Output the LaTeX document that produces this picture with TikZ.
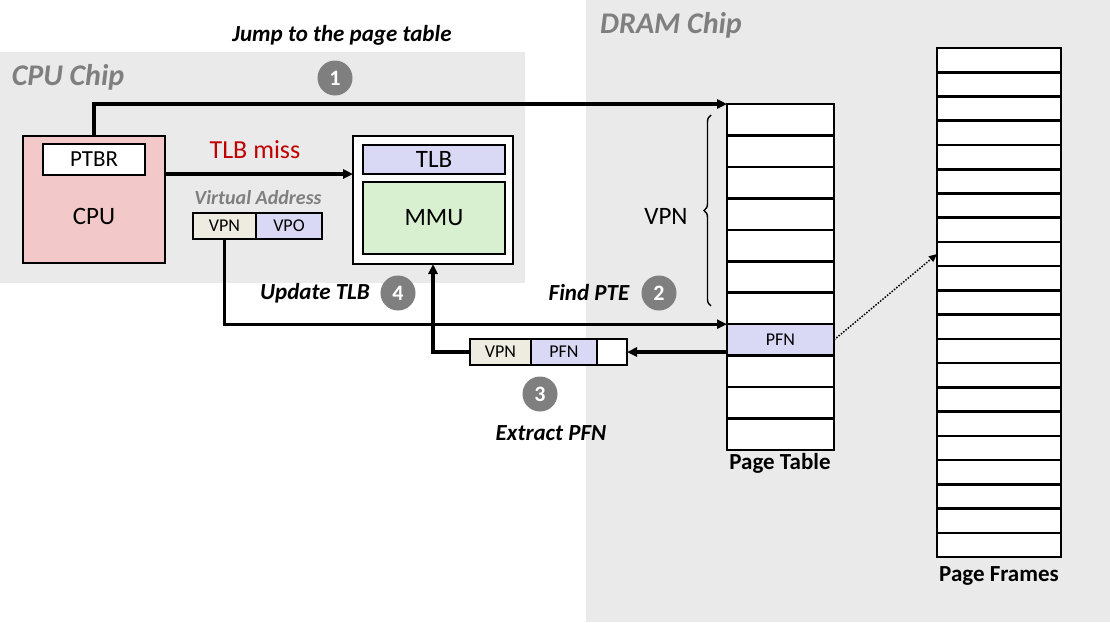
\documentclass[tikz,border=0pt]{standalone}
\usepackage{fontspec}
\setmainfont{Carlito}
\usetikzlibrary{arrows.meta,decorations.pathreplacing,calc}
\definecolor{chipgray}{HTML}{EAEAEA}
\definecolor{titlegray}{HTML}{7F7F7F}
\definecolor{cpupink}{HTML}{F2C8C8}
\definecolor{lav}{HTML}{D9D9F5}
\definecolor{mmugreen}{HTML}{D8F0D0}
\definecolor{beige}{HTML}{EEECE1}
\definecolor{missred}{HTML}{C00000}
\begin{document}
\begin{tikzpicture}[x=1pt,y=-1pt,
  box/.style={draw, line width=2.7pt, inner sep=0pt, outer sep=0pt},
  cell/.style={inner sep=0pt, outer sep=0pt},
  grid/.style={line width=2.6pt},
  arr/.style={line width=3.2pt, -{Triangle[length=10pt,width=9pt]}},
  stepnum/.style={circle, fill=titlegray, text=white, minimum size=35pt, inner sep=0pt,
    font=\fontsize{22}{24}\selectfont\bfseries},
  steplbl/.style={font=\fontsize{23}{27}\selectfont\bfseries\itshape},
  chiplbl/.style={font=\fontsize{30}{34}\selectfont\bfseries\itshape, text=titlegray},
  big/.style={font=\fontsize{25}{29}\selectfont},
  small/.style={font=\fontsize{18}{21}\selectfont}]
\useasboundingbox (0,0) rectangle (1110,622);
% chip backgrounds
\fill[chipgray] (0,52) rectangle (525,283);
\fill[chipgray] (586,0) rectangle (1110,622);
\node[chiplbl] (cpuchip) at (68,77) {CPU Chip};
\node[chiplbl] (dramchip) at (671,25) {DRAM Chip};

% CPU
\node[box, fill=cpupink, minimum width=142pt, minimum height=127pt] (cpu) at (94,199.5) {};
\node[big] (cputxt) at (94,216) {CPU};
\node[box, fill=white, minimum width=102pt, minimum height=31pt, font=\fontsize{23}{27}\selectfont] (ptbr) at (94,159.5) {PTBR};

% MMU
\node[box, fill=white, minimum width=160pt, minimum height=128pt] (mmu) at (433,200) {};
\node[box, fill=lav, minimum width=142pt, minimum height=29pt, big] (tlb) at (434,159.5) {TLB};
\node[box, fill=mmugreen, minimum width=142pt, minimum height=72pt, big] (mmuin) at (434,218) {MMU};

% virtual address
\node[font=\fontsize{20}{24}\selectfont\bfseries\itshape, text=titlegray] (valbl) at (258,198) {Virtual Address};
\node[box, fill=beige, minimum width=63pt, minimum height=26pt, small] (vpn) at (224.5,226) {VPN};
\node[box, fill=lav, minimum width=66pt, minimum height=26pt, small] (vpo) at (289,226) {VPO};

% TLB miss
\draw[arr] (cpu.east |- tlb.south) -- (mmu.west |- tlb.south);
\node[font=\fontsize{26}{30}\selectfont, text=missred] (miss) at (255,150) {TLB miss};

% page table
\foreach \i in {1,...,11}{
  \node[cell, fill=white, minimum width=107pt, minimum height=31.45pt] (pt\i) at (780.5,{104+(\i-0.5)*31.45}) {};
}
\node[cell, fill=lav, minimum width=107pt, minimum height=31.45pt, small] (pt8) at (780.5,{104+7.5*31.45}) {PFN};
\foreach \i in {1,...,11}{
  \draw[grid] (pt\i.north west) rectangle (pt\i.south east);
}
\node[font=\fontsize{23}{27}\selectfont\bfseries] (ptlbl) at (780,463) {Page Table};

% page frames
\foreach \i in {1,...,21}{
  \node[cell, fill=white, minimum width=124pt, minimum height=24.24pt] (pf\i) at (999,{48+(\i-0.5)*24.24}) {};
}
\foreach \i in {1,...,21}{
  \draw[grid] (pf\i.north west) rectangle (pf\i.south east);
}
\node[font=\fontsize{23}{27}\selectfont\bfseries] (pflbl) at (999,576) {Page Frames};

% brace
\draw[line width=1.4pt, decorate, decoration={brace, amplitude=7pt}] (711,306) -- (711,115);
\node[big] (vpnbr) at (666,216) {VPN};

% PTE box
\node[box, fill=beige, minimum width=61pt, minimum height=26pt, small] (pte1) at (500.5,352) {VPN};
\node[box, fill=lav, minimum width=66pt, minimum height=26pt, small] (pte2) at (564,352) {PFN};
\node[box, fill=white, minimum width=30pt, minimum height=26pt] (pte3) at (612,352) {};

% step 1
\draw[arr] (cpu.north) |- (pt1.north west);
\node[stepnum] (s1) at (335,78) {1};
\node[steplbl] (l1) at (342,35) {Jump to the page table};

% step 2
\draw[arr] (vpn.south) |- (pt8.north west);
\node[stepnum] (s2) at (659,293) {2};
\node[steplbl] (l2) at (589,293) {Find PTE};

% step 3
\draw[arr] (pt8.south west |- pte3.east) -- (pte3.east);
\node[stepnum] (s3) at (540,394) {3};
\node[steplbl] (l3) at (551,433) {Extract PFN};

% step 4
\draw[arr] (pte1.west) -| (mmu.south);
\node[stepnum] (s4) at (398,293) {4};
\node[steplbl] (l4) at (315,293) {Update TLB};

% dotted pointer
\draw[line width=1.5pt, dash pattern=on 1.5pt off 1.5pt, -{Triangle[length=8pt,width=7pt]}] (pt8.east) -- (pf9.west);
\end{tikzpicture}
\end{document}
